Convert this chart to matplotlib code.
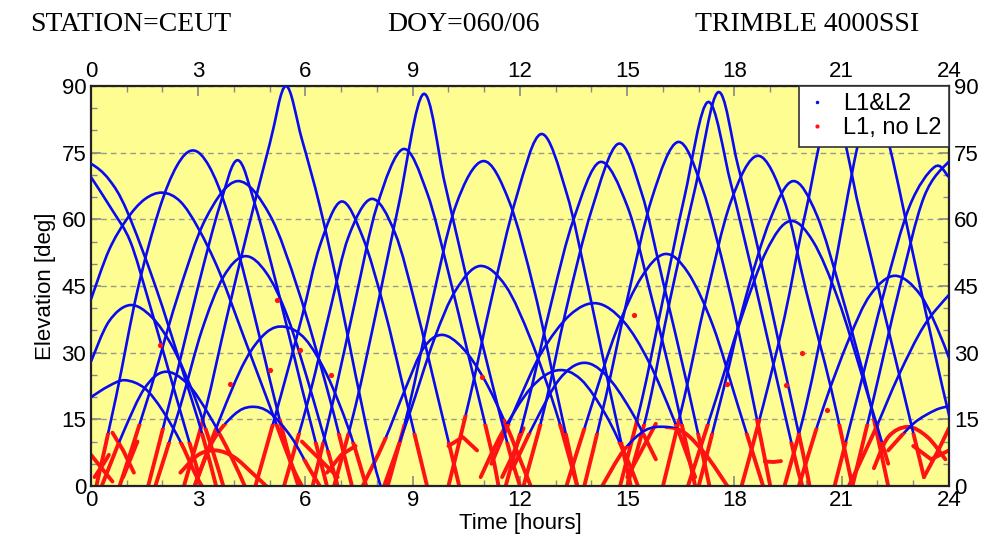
import matplotlib
matplotlib.use('Agg')
import matplotlib.pyplot as plt
from matplotlib.patches import Polygon, PathPatch
from matplotlib.path import Path
from matplotlib.lines import Line2D
import numpy as np

plt.rcParams['font.family'] = ['Liberation Sans', 'DejaVu Sans']

# satellite passes: time [h] and elevation [deg]
pass_t = [
    [-0.4, 0, 0.5, 1.0, 1.8, 2.6, 3.1, 3.5],
    [0, 0.6, 1.1, 1.6, 2.1, 2.6, 3.0],
    [0, 0.5, 1.0, 1.5, 2.0, 2.5, 3.0, 3.6, 4.3, 5.0, 5.6, 5.9],
    [0.15, 0.7, 1.3, 1.9, 2.4, 2.85, 3.3, 3.8, 4.4, 5.0, 5.5, 5.8],
    [1.6, 2.3, 3.0, 3.6, 4.1, 4.6, 5.2, 5.9, 6.6],
    [0.8, 1.6, 2.4, 3.2, 4.1, 5.0, 5.8, 6.6, 7.3],
    [2.6, 3.2, 3.8, 4.4, 5.0, 5.45, 5.9, 6.4, 6.9, 7.4, 7.9, 8.1],
    [4.6, 5.3, 5.9, 6.4, 7.0, 7.6, 8.2, 8.8, 9.4],
    [5.4, 6.1, 6.7, 7.2, 7.85, 8.5, 9.1, 9.7, 10.3],
    [1.8, 2.5, 3.1, 3.7, 4.3, 4.9, 5.5, 6.2, 6.9],
    [0, 0.5, 1.09, 1.7, 2.3, 2.9, 3.4, 3.7],
    [0, 0.5, 0.95, 1.5, 2.0, 2.5, 2.9, 3.1],
    [0.3, 0.9, 1.5, 2.07, 2.7, 3.3, 3.9, 4.3],
    [2.9, 3.6, 4.3, 4.9, 5.43, 6.0, 6.6, 7.2, 7.7],
    [2.9, 3.4, 4.0, 4.48, 5.0, 5.6, 6.1, 6.4],
    [2.5, 3.0, 3.5, 4.0, 4.5, 4.9],
    [6.8, 7.4, 8.0, 8.6, 9.3, 9.9, 10.5, 11.1, 11.7, 12.0],
    [6.2, 6.8, 7.4, 8.0, 8.73, 9.4, 10.0, 10.6, 11.2, 11.4],
    [8.3, 8.9, 9.5, 10.2, 10.97, 11.7, 12.4, 13.0, 13.6],
    [10.0, 10.6, 11.2, 11.9, 12.6, 13.3, 13.9, 14.5, 15.1],
    [12.1, 12.7, 13.3, 14.0, 14.75, 15.4, 16.0, 16.7, 17.3],
    [11.6, 12.2, 12.9, 13.5, 14.24, 15.0, 15.6, 16.3, 16.9],
    [8.2, 8.9, 9.6, 10.2, 10.88, 11.6, 12.3, 13.0, 13.6],
    [7.6, 8.2, 8.8, 9.3, 9.82, 10.4, 11.0, 11.6, 12.1, 12.3],
    [11.2, 11.9, 12.6, 13.4, 14.15, 14.9, 15.6, 16.3, 16.9],
    [10.9, 11.5, 12.3, 13.03, 13.7, 14.4, 15.0, 15.3],
    [11.8, 12.4, 13.1, 13.76, 14.4, 15.1, 15.8],
    [14.3, 14.9, 15.5, 16.06, 16.6, 17.2, 17.8],
    [15.0, 15.6, 16.2, 16.9, 17.54, 18.1, 18.7, 19.3, 19.9, 20.1],
    [14.8, 15.4, 16.0, 16.6, 17.26, 17.9, 18.5, 19.1, 19.7, 19.9],
    [13.8, 14.4, 15.0, 15.7, 16.42, 17.1, 17.8, 18.4, 19.0],
    [16.0, 16.6, 17.2, 17.9, 18.66, 19.4, 20.0, 20.7, 21.3],
    [17.0, 17.7, 18.3, 19.0, 19.64, 20.3, 21.0, 21.7, 22.3],
    [16.7, 17.5, 18.2, 18.9, 19.55, 20.2, 20.9, 21.6, 22.3],
    [13.3, 14.0, 14.7, 15.4, 16.06, 16.7, 17.4, 18.1, 18.8],
    [19.8, 20.5, 21.2, 21.8, 22.49, 23.2, 23.8, 24.3],
    [21.3, 21.9, 22.6, 23.3, 24.0, 24.3],
    [20.8, 21.5, 22.2, 22.9, 23.6, 24.0, 24.4],
    [19.4, 20.0, 20.7, 21.43, 21.89, 22.35, 23.0, 23.6, 24.0, 24.4],
    [18.2, 18.8, 19.4, 20.0, 20.74, 21.5, 22.1, 22.7, 23.3],
    [21.2, 21.9, 22.6, 23.3, 24.0, 24.4],
    [22.3, 23.0, 23.6, 24.0, 24.4],
    [21.9, 22.3, 22.85, 23.4, 23.9],
]
pass_el = [
    [73, 72.5, 69, 62, 45, 25, 12, 0],
    [69.5, 62, 55, 42, 28, 14, 3],
    [42, 53, 60, 64.5, 66, 64, 58, 48, 33, 18, 5, 0],
    [0, 20, 44, 62, 72, 75.5, 72, 62, 44, 24, 8, 0],
    [0, 22, 45, 63, 73.3, 63, 45, 22, 0],
    [0, 20, 42, 60, 68.6, 61, 44, 22, 0],
    [0, 17, 38, 58, 77, 90, 78, 63, 45, 25, 6, 0],
    [0, 20, 38, 54, 64, 56, 40, 20, 0],
    [0, 20, 40, 56, 64.6, 57, 40, 20, 0],
    [0, 18, 35, 47, 51.7, 48, 38, 20, 0],
    [28, 37, 40.7, 38, 31, 20, 8, 0],
    [20, 22.5, 23.8, 22, 17, 10, 3, 0],
    [0, 12, 22, 25.7, 23, 16, 7, 0],
    [0, 15, 28, 34.5, 35.8, 33, 25, 13, 0],
    [0, 10, 16, 17.8, 16.5, 11, 4, 0],
    [3, 7, 8, 6.5, 3, 0],
    [0, 18, 40, 63, 88.2, 68, 47, 27, 8, 0],
    [0, 20, 42, 63, 75.8, 66, 48, 28, 8, 0],
    [0, 18, 40, 63, 73.1, 64, 44, 22, 0],
    [0, 20, 42, 65, 79.2, 66, 45, 22, 0],
    [0, 18, 40, 62, 77, 66, 46, 22, 0],
    [0, 18, 42, 60, 72.9, 63, 45, 22, 0],
    [0, 16, 33, 44, 49.5, 45, 33, 17, 0],
    [0, 10, 22, 31, 34, 31, 24, 14, 4, 0],
    [5, 18, 30, 38.5, 41.1, 37, 28, 15, 2],
    [2, 12, 22, 26, 24, 16, 6, 0],
    [4, 14, 24, 27.7, 25, 17, 6],
    [0, 8, 12.5, 13.3, 12, 7, 0],
    [0, 18, 42, 67, 88.6, 72, 52, 30, 8, 0],
    [0, 19, 42, 65, 86.4, 68, 48, 27, 6, 0],
    [0, 20, 42, 65, 77.4, 67, 46, 24, 0],
    [0, 20, 42, 64, 74.3, 64, 44, 22, 0],
    [0, 22, 42, 60, 68.6, 61, 43, 22, 0],
    [0, 20, 38, 53, 59.6, 55, 42, 24, 5],
    [0, 18, 35, 47, 52.2, 48, 36, 18, 0],
    [0, 18, 33, 43, 47.3, 43, 33, 22],
    [0, 20, 44, 65, 73, 73.5],
    [0, 22, 44, 63, 71.8, 69.5, 66],
    [0, 18, 45, 76, 88, 76, 52, 30, 16, 3],
    [0, 18, 38, 62, 85, 62, 42, 22, 2],
    [0, 12, 25, 36, 43, 46],
    [8, 14, 17, 18, 19],
    [4, 11, 13.3, 11, 6],
]
# below these elevations the pass is tracked on L1 only (rising side, setting side)
red_rise = [0, 0, 0, 12, 13, 14, 15, 14, 12, 10, 0, 0, 10, 13, 14, 99,
            12, 10, 14, 16, 14, 12, 10, 11, 14, 14, 12, 9,
            14, 15, 12, 15, 12, 14, 13, 13, 14, 10, 12, 15, 14, 12, 99]
red_set = [12, 10, 14, 15, 10, 12, 0, 12, 10, 8, 13, 10, 12, 10, 6, 99,
           10, 14, 12, 10, 12, 14, 14, 15, 14, 10, 12, 13,
           12, 10, 15, 14, 15, 10, 12, 0, 0, 0, 14, 12, 0, 0, 99]

# short L1-only fragments near the horizon
frag_t = [[0.0, 0.3, 0.6], [0.1, 0.35, 0.5], [0.6, 0.9, 1.2], [0.9, 1.1, 1.3],
          [5.9, 6.4, 6.9], [6.6, 7.0, 7.4], [10.0, 10.4, 10.8], [11.5, 11.8, 12.1],
          [15.0, 15.4, 15.8], [18.85, 19.1, 19.3], [23.0, 23.5, 24.0], [23.3, 23.7, 24.0]]
frag_el = [[7, 4, 1], [2, 5, 7], [12, 8, 3], [2, 6, 10],
           [10, 6, 2], [3, 7, 9], [9, 11, 8], [2, 7, 13],
           [2, 8, 14], [5.5, 5.4, 5.6], [9, 6, 8], [2, 8, 13]]
dot_t = [1.93, 5.2, 5.0, 5.85, 6.7, 10.94, 15.2, 17.8, 19.44, 19.9, 20.6, 3.9]
dot_el = [31.7, 41.9, 26, 30.6, 25, 24.5, 38.5, 23, 22.7, 30, 17, 23]

BLUE = '#0a0af0'
RED = '#ff1212'


def smooth_path(ts, es):
    # cubic Bezier segments through the read points (Catmull-Rom tangents)
    p = np.column_stack([ts, es]).astype(float)
    ext = np.vstack([p[0], p, p[-1]])
    verts = [p[0]]
    codes = [Path.MOVETO]
    for i in range(len(p) - 1):
        a, b, c, d = ext[i], ext[i + 1], ext[i + 2], ext[i + 3]
        verts += [b + (c - a) / 6.0, c - (d - b) / 6.0, c]
        codes += [Path.CURVE4] * 3
    return Path(verts, codes)


fig = plt.figure(figsize=(9.88, 5.45), dpi=100)
fig.patch.set_facecolor('white')
ax = fig.add_axes([0.0921, 0.1083, 0.8684, 0.7339])
ax.set_facecolor('#fdfd92')

for ts, es, r1, r2 in zip(pass_t, pass_el, red_rise, red_set):
    tp = ts[int(np.argmax(es))]
    path = smooth_path(ts, es)
    lo, hi = ts[0] - 1, ts[-1] + 1
    upper = Polygon([(lo, r1), (tp, r1), (tp, r2), (hi, r2), (hi, 100), (lo, 100)],
                    closed=True, transform=ax.transData)
    lower = Polygon([(lo, -5), (lo, r1), (tp, r1), (tp, r2), (hi, r2), (hi, -5)],
                    closed=True, transform=ax.transData)
    red = PathPatch(path, fill=False, edgecolor=RED, lw=2.8, capstyle='round', zorder=2)
    ax.add_patch(red)
    red.set_clip_path(lower)
    blue = PathPatch(path, fill=False, edgecolor=BLUE, lw=1.9, zorder=3)
    ax.add_patch(blue)
    blue.set_clip_path(upper)

for ts, es in zip(frag_t, frag_el):
    ax.plot(ts, es, color=RED, lw=2.8, solid_capstyle='round', zorder=2)
ax.scatter(dot_t, dot_el, s=14, color=RED, zorder=4, linewidths=0)

ax.set_xlim(0, 24)
ax.set_ylim(0, 90)
ax.set_xticks(np.arange(0, 25, 3))
ax.set_xticks(np.arange(0, 25, 1), minor=True)
ax.set_yticks(np.arange(0, 91, 15))
ax.set_yticks(np.arange(0, 91, 5), minor=True)
ax.grid(axis='y', which='major', linestyle=(0, (4, 3)), color='#9a9a8a', lw=1.0)
ax.tick_params(which='both', direction='in', top=True, right=True,
               labeltop=True, labelright=True, color='#888888')
ax.tick_params(which='major', length=7, width=1.2, labelsize=16)
ax.tick_params(which='minor', length=4, width=1.0)
ax.tick_params(axis='x', which='major', pad=3)
for s in ax.spines.values():
    s.set_linewidth(1.6)
    s.set_color('#222222')

ax.set_xlabel('Time [hours]', fontsize=16, labelpad=1)
ax.set_ylabel('Elevation [deg]', fontsize=16, labelpad=4)

handles = [Line2D([], [], ls='', marker='.', ms=3, color=BLUE),
           Line2D([], [], ls='', marker='.', ms=4, color=RED)]
leg = ax.legend(handles, ['L1&L2', 'L1, no L2'], loc='upper right', fontsize=17,
                frameon=True, fancybox=False, framealpha=1, edgecolor='#333333',
                borderaxespad=0.0, handlelength=1.0, handletextpad=0.6,
                labelspacing=0.1, borderpad=0.3)
leg.get_frame().set_linewidth(1.2)
leg.set_zorder(10)

fig.text(0.03, 0.955, 'STATION=CEUT', fontsize=20, family='Liberation Serif', va='center')
fig.text(0.392, 0.955, 'DOY=060/06', fontsize=20, family='Liberation Serif', va='center')
fig.text(0.703, 0.955, 'TRIMBLE 4000SSI', fontsize=20, family='Liberation Serif', va='center')

fig.savefig('out.png', dpi=100)
